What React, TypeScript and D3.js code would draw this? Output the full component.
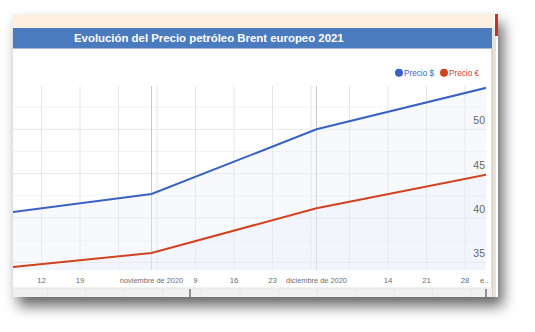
import React from "react";
import * as d3 from "d3";

const title = "Evolución del Precio petróleo Brent europeo 2021";
const seriesNames = ["Precio $", "Precio €"];
const seriesColors = ["#3a62c2", "#d1421f"];
const months = [new Date(2020, 9, 1), new Date(2020, 10, 1), new Date(2020, 11, 1), new Date(2021, 0, 1)];
const precioUSD = [40.2, 42.7, 50.0, 54.7];
const precioEUR = [34.1, 36.05, 41.1, 44.9];
const yTicks = [35, 40, 45, 50];
const yMinor = [37.5, 42.5, 47.5, 52.5];
const weekTicks = [
  new Date(2020, 9, 12), new Date(2020, 9, 19), new Date(2020, 9, 26), new Date(2020, 10, 2),
  new Date(2020, 10, 9), new Date(2020, 10, 16), new Date(2020, 10, 23), new Date(2020, 10, 30),
  new Date(2020, 11, 7), new Date(2020, 11, 14), new Date(2020, 11, 21), new Date(2020, 11, 28),
];
const weekLabels = ["12", "19", "", "", "9", "16", "23", "", "", "14", "21", "28"];
const monthTicks = [new Date(2020, 10, 1), new Date(2020, 11, 1)];
const monthLabels = ["noviembre de 2020", "diciembre de 2020"];
const endLabel = "e..";

const W = 535, H = 332;
const plot = { left: 13, right: 486, top: 86, bottom: 270 };
const FONT = "'Liberation Sans', Arial, sans-serif";

export default function App() {
  const x = d3.scaleTime().domain([months[0], months[3]]).range([-19, 487]);
  const y = d3.scaleLinear().domain([35, 50]).range([262.3, 129.3]);
  const series = [precioUSD, precioEUR];
  const line = d3.line<number>().x((_, i) => x(months[i])).y((d) => y(d));
  const area = d3
    .area<number>()
    .x((_, i) => x(months[i]))
    .y0(plot.bottom)
    .y1((d) => y(d));

  return (
    <svg
      width={W}
      height={H}
      style={{ position: "absolute", left: 0, top: 0, background: "#fff" }}
      fontFamily={FONT}
    >
      <defs>
        <filter id="sh" x="-10%" y="-10%" width="130%" height="130%">
          <feDropShadow dx="5" dy="9" stdDeviation="7" floodColor="#000" floodOpacity="0.6" />
        </filter>
        <clipPath id="clip">
          <rect x={plot.left} y={plot.top} width={plot.right - plot.left} height={plot.bottom - plot.top} />
        </clipPath>
      </defs>
      <rect x={0} y={0} width={W} height={H} fill="#fff" />
      <rect x={13} y={14} width={485} height={283} fill="#fff" filter="url(#sh)" />
      <rect x={13} y={14} width={481} height={14} fill="#fdf0e1" />
      <rect x={13} y={28} width={480} height={20.5} fill="#4a7bbf" />
      <text x={74} y={41.6} fill="#fff" fontWeight="bold" fontSize={11.4}>
        {title}
      </text>
      <rect x={492} y={28} width={4} height={269} fill="#e9e2d8" />
      <line x1={492} x2={492} y1={48} y2={297} stroke="#c9c2b8" />
      <rect x={495} y={14} width={3} height={22} fill="#c8302a" />

      <g clipPath="url(#clip)">
        {yMinor.map((v) => (
          <line key={"m" + v} x1={plot.left} x2={plot.right} y1={y(v)} y2={y(v)} stroke="#f3f3f3" />
        ))}
        {yTicks.map((v) => (
          <line key={"t" + v} x1={plot.left} x2={plot.right} y1={y(v)} y2={y(v)} stroke="#e8e8e8" />
        ))}
        {weekTicks.map((d, i) => (
          <line key={"w" + i} x1={x(d)} x2={x(d)} y1={plot.top} y2={plot.bottom} stroke="#e6e6e6" />
        ))}
        {monthTicks.map((d, i) => (
          <line key={"mo" + i} x1={x(d)} x2={x(d)} y1={plot.top} y2={plot.bottom} stroke="#c8c8c8" />
        ))}
        {series.map((s, i) => (
          <path key={"a" + i} d={area(s) || ""} fill="#e9effa" fillOpacity={0.35} />
        ))}
        {series.map((s, i) => (
          <path key={"l" + i} d={line(s) || ""} fill="none" stroke={seriesColors[i]} strokeWidth={2} />
        ))}
      </g>

      {yTicks.map((v) => (
        <text key={"yl" + v} x={485} y={y(v) - 5} textAnchor="end" fontSize={10.5} fill="#666">
          {v}
        </text>
      ))}

      {seriesNames.map((n, i) => (
        <g key={n} transform={`translate(${399 + i * 45},72.7)`}>
          <circle cx={0} cy={0} r={4} fill={seriesColors[i]} />
          <text x={5} y={3} fontSize={8.2} fill={seriesColors[i]}>
            {n}
          </text>
        </g>
      ))}

      {weekTicks.map((d, i) =>
        weekLabels[i] ? (
          <text key={"xl" + i} x={x(d)} y={282.5} textAnchor="middle" fontSize={7.8} fill="#6e6e6e">
            {weekLabels[i]}
          </text>
        ) : null
      )}
      {monthTicks.map((d, i) => (
        <text key={"ml" + i} x={x(d)} y={282.5} textAnchor="middle" fontSize={7.4} fill="#6e6e6e">
          {monthLabels[i]}
        </text>
      ))}
      <text x={480} y={282.5} fontSize={7.8} fill="#6e6e6e">
        {endLabel}
      </text>

      <rect x={13} y={288} width={479} height={9} fill="#f0f0f0" />
      <line x1={13} x2={492} y1={288} y2={288} stroke="#e4e4e4" />
      {weekTicks.map((d, i) => (
        <line key={"nt" + i} x1={x(d) + 6} x2={x(d) + 6} y1={289} y2={297} stroke="#e6e6e6" />
      ))}
      <line x1={190} x2={190} y1={289} y2={297} stroke="#333" />
      <line x1={486} x2={486} y1={289} y2={297} stroke="#333" />
    </svg>
  );
}
